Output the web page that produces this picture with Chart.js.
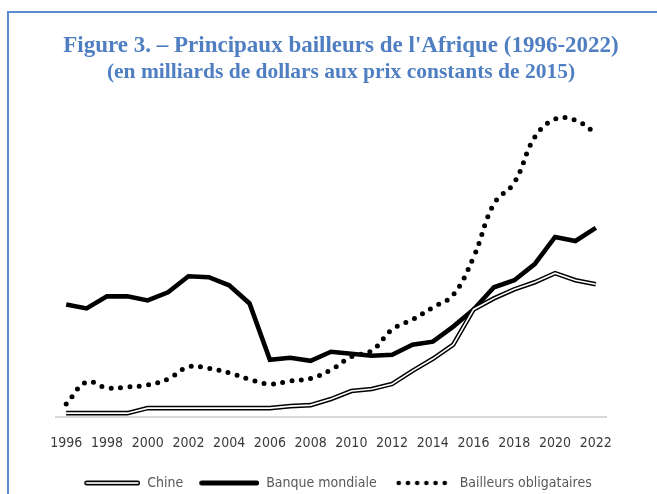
<!DOCTYPE html>
<html>
<head>
<meta charset="utf-8">
<script src="https://cdn.jsdelivr.net/npm/chart.js@4"></script>
<style>
  html, body { margin: 0; padding: 0; background: #fff; }
  #page { position: relative; width: 657px; height: 494px; overflow: hidden; }
  #frame { position: absolute; left: 7px; top: 11px; width: 700px; height: 520px;
           border-left: 2px solid #5a8bd2; border-top: 2px solid #5a8bd2; }
  #chdiv { position: absolute; left: 0; top: 0; width: 657px; height: 494px; }
  #blchart { display: block; width: 657px; height: 494px; }
</style>
</head>
<body>
<div id="page">
  <div id="frame"></div>
  <div id="chdiv"><canvas id="blchart" width="657" height="494"></canvas></div>
</div>
<script>
// years on the x axis
const years = ['1996', '1997', '1998', '1999', '2000', '2001', '2002', '2003', '2004',
  '2005', '2006', '2007', '2008', '2009', '2010', '2011', '2012', '2013', '2014',
  '2015', '2016', '2017', '2018', '2019', '2020', '2021', '2022'];

// series (milliards de dollars)
const chine = [0.4, 0.4, 0.4, 0.4, 0.9, 0.9, 0.9, 0.9, 0.9, 0.9, 0.9, 1.1, 1.2, 1.8,
  2.6, 2.8, 3.3, 4.6, 5.8, 7.2, 10.7, 11.8, 12.7, 13.4, 14.3, 13.6, 13.2];
const banqueMondiale = [11.2, 10.8, 12.0, 12.0, 11.6, 12.4, 14.0, 13.9, 13.1, 11.3, 5.7,
  5.9, 5.6, 6.5, 6.3, 6.1, 6.2, 7.2, 7.5, 9.0, 10.7, 12.9, 13.6, 15.2, 17.9, 17.5, 18.8];
const obligataires = [1.3, 3.5, 2.9, 3.0, 3.2, 3.8, 5.0, 4.85, 4.4, 3.75, 3.3, 3.6, 3.85,
  4.7, 6.0, 6.6, 8.7, 9.7, 10.9, 12.15, 15.9, 21.2, 23.3, 27.8, 29.6, 29.5, 28.2];

const seriesNames = ['Chine', 'Banque mondiale', 'Bailleurs obligataires'];

// legend samples: right-aligned in a fixed-width box, left part is the gap
const W = 70;
function sample(len, kind) {
  const c = document.createElement('canvas');
  c.width = W; c.height = 10;
  const g = c.getContext('2d');
  g.lineCap = 'round';
  if (kind === 'dots') {
    g.fillStyle = '#000';
    for (let i = 0; i < 6; i++) {
      g.beginPath(); g.arc(W - 8 - i * 9.2, 5, 2.3, 0, Math.PI * 2); g.fill();
    }
  } else {
    g.strokeStyle = '#000'; g.lineWidth = 5;
    g.beginPath(); g.moveTo(W - len + 2.5, 5); g.lineTo(W - 2.5, 5); g.stroke();
    if (kind === 'double') {
      g.strokeStyle = '#d4d4d4'; g.lineWidth = 2;
      g.beginPath(); g.moveTo(W - len + 2.5, 5); g.lineTo(W - 2.5, 5); g.stroke();
    }
  }
  return c;
}
const samples = [sample(56, 'double'), sample(60, 'solid'), sample(50, 'dots')];

new Chart(document.getElementById('blchart').getContext('2d'), {
  type: 'line',
  data: {
    labels: years,
    datasets: [
      { label: 'Chine', data: chine, borderColor: '#ffffff', borderWidth: 1.6,
        pointRadius: 0, tension: 0 },
      { label: 'Chine', data: chine, borderColor: '#000000', borderWidth: 4.6,
        pointRadius: 0, tension: 0 },
      { label: 'Banque mondiale', data: banqueMondiale, borderColor: '#000000',
        borderWidth: 4.6, pointRadius: 0, tension: 0 },
      { label: 'Bailleurs obligataires', data: obligataires, borderColor: '#000000',
        borderWidth: 5, borderDash: [0, 9.4], borderCapStyle: 'round',
        pointRadius: 0, tension: 0.4, clip: false },
    ],
  },
  options: {
    responsive: false,
    animation: false,
    devicePixelRatio: 1,
    layout: { padding: { left: 56, right: 31, top: 0, bottom: -6 } },
    plugins: {
      title: {
        display: true,
        text: "Figure 3. – Principaux bailleurs de l'Afrique (1996-2022)",
        color: '#4f7fc2',
        font: { family: 'Liberation Serif', size: 23, weight: 'bold' },
        padding: { top: 32, bottom: 0 },
      },
      subtitle: {
        display: true,
        text: '(en milliards de dollars aux prix constants de 2015)',
        color: '#4f7fc2',
        font: { family: 'Liberation Serif', size: 21.5, weight: 'bold' },
        padding: { top: 0, bottom: 29.7 },
      },
      legend: {
        position: 'bottom',
        fullSize: false,
        labels: {
          usePointStyle: true,
          pointStyleWidth: W,
          padding: 6,
          color: '#595959',
          font: { family: 'DejaVu Sans Condensed', size: 14 },
          generateLabels: () => seriesNames.map((t, i) => ({
            text: t, pointStyle: samples[i], fontColor: '#595959',
            lineWidth: 0, hidden: false, datasetIndex: i + 1,
          })),
        },
      },
      tooltip: { enabled: false },
    },
    scales: {
      x: {
        offset: true,
        grid: { display: false, drawTicks: false },
        border: { display: true, color: '#d9d9d9', width: 2 },
        ticks: {
          autoSkip: false, maxRotation: 0, padding: 18, color: '#3a3a3a',
          font: { family: 'DejaVu Sans Condensed', size: 14 },
          callback: (v, i) => (i % 2 === 0 ? years[i] : ''),
        },
      },
      y: { display: false, min: 0, max: 30 },
      pad: {
        position: 'right', display: true,
        grid: { display: false }, border: { display: false },
        ticks: { display: false },
        afterFit: (s) => { s.width = 20; },
      },
    },
  },
});
</script>
</body>
</html>
